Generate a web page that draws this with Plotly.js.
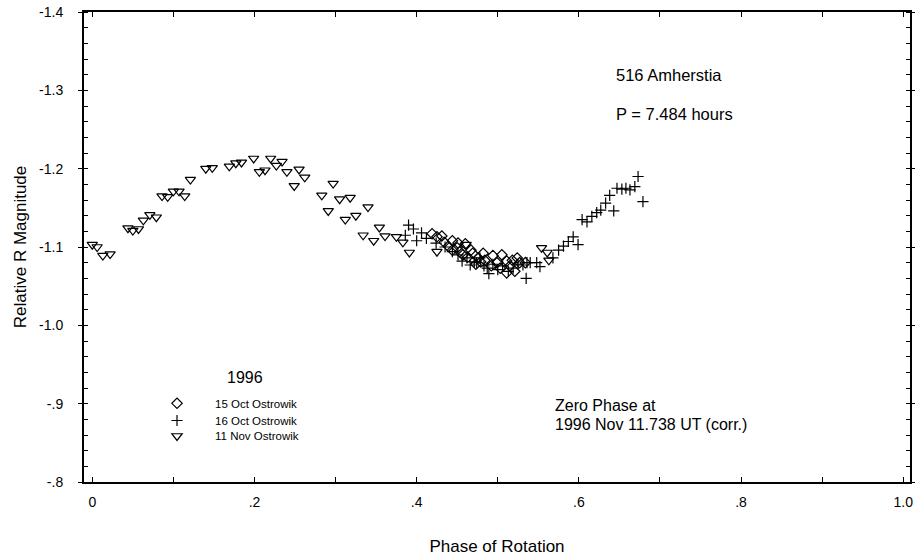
<!DOCTYPE html>
<html>
<head>
<meta charset="utf-8">
<script src="https://cdn.plot.ly/plotly-3.0.1.min.js"></script>
<style>html,body{margin:0;padding:0;background:#fff;}#chart{width:915px;height:556px;}</style>
</head>
<body>
<div id="chart"></div>
<script>
// 15 Oct Ostrowik (diamonds)
const diaPhase = [0.419,0.425,0.431,0.434,0.439,0.444,0.451,0.444,0.450,0.460,0.457,0.463,0.469,0.476,0.482,0.484,0.494,0.499,0.505,0.511,0.511,0.518,0.521,0.524,0.527,0.534,0.467,0.479,0.492,0.453,0.473,0.515,0.503];
const diaMag   = [-1.117,-1.113,-1.114,-1.106,-1.101,-1.108,-1.105,-1.096,-1.099,-1.104,-1.090,-1.087,-1.092,-1.086,-1.092,-1.083,-1.089,-1.080,-1.090,-1.082,-1.067,-1.083,-1.069,-1.086,-1.080,-1.080,-1.096,-1.081,-1.076,-1.094,-1.078,-1.076,-1.073];
// 16 Oct Ostrowik (crosses)
const plusPhase = [0.390,0.396,0.406,0.386,0.400,0.412,0.424,0.435,0.444,0.451,0.456,0.462,0.466,0.471,0.474,0.478,0.483,0.487,0.489,0.494,0.500,0.506,0.513,0.519,0.525,0.531,0.536,0.535,0.540,0.548,0.552,0.568,0.575,0.581,0.587,0.593,0.599,0.604,0.610,0.616,0.622,0.627,0.633,0.638,0.643,0.647,0.653,0.658,0.663,0.669,0.673,0.679];
const plusMag   = [-1.128,-1.123,-1.118,-1.115,-1.108,-1.111,-1.105,-1.100,-1.094,-1.090,-1.082,-1.086,-1.077,-1.081,-1.080,-1.086,-1.076,-1.073,-1.066,-1.078,-1.071,-1.076,-1.069,-1.073,-1.078,-1.077,-1.080,-1.060,-1.080,-1.080,-1.075,-1.086,-1.096,-1.101,-1.107,-1.113,-1.103,-1.135,-1.132,-1.139,-1.144,-1.147,-1.156,-1.166,-1.146,-1.175,-1.174,-1.175,-1.173,-1.177,-1.190,-1.158];
// 11 Nov Ostrowik (down triangles)
const triPhase = [0.000,0.006,0.013,0.022,0.044,0.050,0.057,0.063,0.071,0.079,0.086,0.093,0.100,0.107,0.114,0.121,0.140,0.148,0.169,0.177,0.184,0.199,0.206,0.213,0.220,0.227,0.234,0.240,0.249,0.255,0.262,0.283,0.291,0.297,0.305,0.312,0.318,0.325,0.334,0.340,0.347,0.354,0.361,0.375,0.383,0.391,0.425,0.461,0.554,0.561,0.563];
const triMag   = [-1.103,-1.100,-1.089,-1.091,-1.124,-1.121,-1.123,-1.134,-1.141,-1.138,-1.165,-1.164,-1.171,-1.171,-1.165,-1.186,-1.200,-1.201,-1.203,-1.207,-1.208,-1.213,-1.196,-1.198,-1.213,-1.204,-1.209,-1.196,-1.178,-1.199,-1.189,-1.166,-1.146,-1.181,-1.161,-1.135,-1.163,-1.140,-1.115,-1.151,-1.108,-1.125,-1.114,-1.113,-1.106,-1.093,-1.094,-1.103,-1.099,-1.093,-1.083];

const seriesNames = ['15 Oct Ostrowik','16 Oct Ostrowik','11 Nov Ostrowik'];
const xTickVals = [0,0.2,0.4,0.6,0.8,1.0];
const xTickText = ['0','.2','.4','.6','.8','1.0'];
const yTickVals = [-1.4,-1.3,-1.2,-1.1,-1.0,-0.9,-0.8];
const yTickText = ['-1.4','-1.3','-1.2','-1.1','-1.0','-.9','-.8'];

const FONT = 'Liberation Sans, Arial, sans-serif';
const traces = [
  {x: diaPhase, y: diaMag, name: seriesNames[0], type: 'scatter', mode: 'markers', legend: 'legend',
   marker: {symbol: 'diamond-open', size: 8, color: '#000', line: {width: 1.2, color: '#000'}}},
  {x: plusPhase, y: plusMag, name: seriesNames[1], type: 'scatter', mode: 'markers', legend: 'legend2',
   marker: {symbol: 'cross-thin-open', size: 8, color: '#000', line: {width: 1.2, color: '#000'}}},
  {x: triPhase, y: triMag, name: seriesNames[2], type: 'scatter', mode: 'markers', legend: 'legend3',
   marker: {symbol: 'triangle-down-open', size: 9, color: '#000', line: {width: 1.2, color: '#000'}}}
];

function leg(y) {
  return {x: 0.0666, y: y, xanchor: 'left', yanchor: 'middle', bgcolor: 'rgba(0,0,0,0)', borderwidth: 0,
          itemwidth: 66, font: {family: FONT, size: 11.5, color: '#000'}};
}

const layout = {
  width: 915, height: 556,
  margin: {l: 84, r: 5, t: 12, b: 74},
  paper_bgcolor: '#fff', plot_bgcolor: '#fff',
  font: {family: FONT, color: '#000'},
  showlegend: true,
  legend: leg(0.1674),
  legend2: leg(0.1309),
  legend3: leg(0.0979),
  xaxis: {
    range: [-0.0102, 1.0083], tickvals: xTickVals, ticktext: xTickText,
    ticks: 'inside', ticklen: 5, tickwidth: 1, tickcolor: '#000',
    minor: {dtick: 0.1, tick0: 0, ticks: 'inside', ticklen: 5, tickwidth: 1, tickcolor: '#000'},
    showline: true, linewidth: 2, linecolor: '#000', mirror: 'ticks',
    showgrid: false, zeroline: false,
    tickfont: {family: FONT, size: 14, color: '#000'}, ticklabelstandoff: 6,
    title: {text: 'Phase of Rotation', font: {family: FONT, size: 17, color: '#000'}, standoff: 31}
  },
  yaxis: {
    range: [-0.8, -1.4], tickvals: yTickVals, ticktext: yTickText,
    ticks: 'outside', ticklen: 4, tickwidth: 1, tickcolor: '#000',
    minor: {dtick: 0.02, tick0: -1.4, ticks: 'inside', ticklen: 4, tickwidth: 1, tickcolor: '#000'},
    showline: true, linewidth: 2, linecolor: '#000', mirror: 'ticks',
    showgrid: false, zeroline: false,
    tickfont: {family: FONT, size: 14, color: '#000'}, ticklabelstandoff: 12,
    title: {text: 'Relative R Magnitude', font: {family: FONT, size: 17, color: '#000'}, standoff: 8}
  },
  annotations: [
    {text: '516 Amherstia', xref: 'paper', yref: 'paper', x: 0.642, y: 0.866, xanchor: 'left', yanchor: 'middle', showarrow: false, font: {family: FONT, size: 16.5, color: '#000'}},
    {text: 'P = 7.484 hours', xref: 'paper', yref: 'paper', x: 0.642, y: 0.783, xanchor: 'left', yanchor: 'middle', showarrow: false, font: {family: FONT, size: 16.5, color: '#000'}},
    {text: 'Zero Phase at', xref: 'paper', yref: 'paper', x: 0.568, y: 0.162, xanchor: 'left', yanchor: 'middle', showarrow: false, font: {family: FONT, size: 16, color: '#000'}},
    {text: '1996 Nov 11.738 UT (corr.)', xref: 'paper', yref: 'paper', x: 0.568, y: 0.123, xanchor: 'left', yanchor: 'middle', showarrow: false, font: {family: FONT, size: 16, color: '#000'}},
    {text: '1996', xref: 'paper', yref: 'paper', x: 0.1945, y: 0.2234, xanchor: 'center', yanchor: 'middle', showarrow: false, font: {family: FONT, size: 16, color: '#000'}}
  ]
};

Plotly.newPlot('chart', traces, layout, {displayModeBar: false, staticPlot: true});
</script>
</body>
</html>
